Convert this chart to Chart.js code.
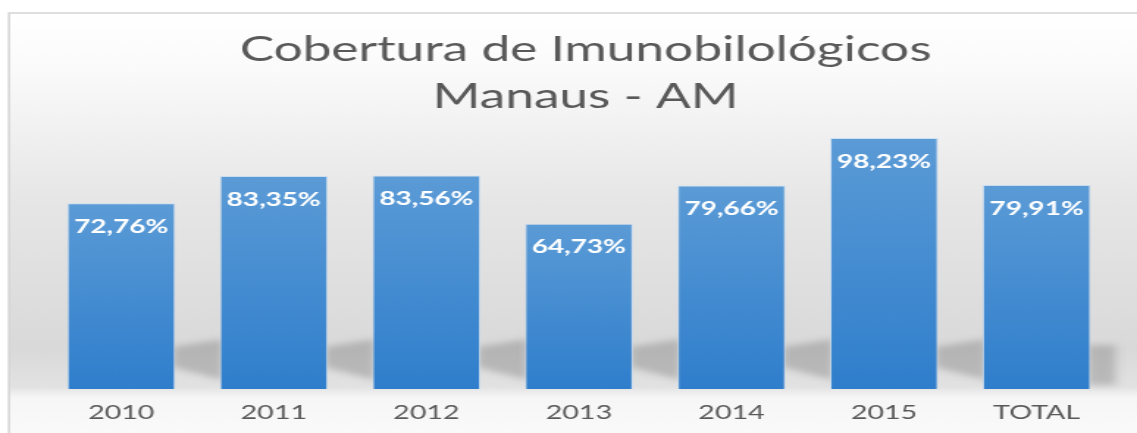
<!DOCTYPE html>
<html>
<head>
<meta charset="utf-8">
<script src="https://cdn.jsdelivr.net/npm/chart.js@4"></script>
<style>
  html, body { margin: 0; padding: 0; background: #fff; overflow: hidden; }
  /* the reference is stretched sideways, so draw narrow and stretch */
  #wrap { position: absolute; left: 0; top: 0; width: 774px; height: 433px;
          transform: scaleX(1.46899); transform-origin: 0 0; }
</style>
</head>
<body>
<div id="wrap"><canvas id="chart"></canvas></div>
<script>
const titleLines = ["Cobertura de Imunobilológicos", "Manaus - AM"];
const categories = ["2010", "2011", "2012", "2013", "2014", "2015", "TOTAL"];
const coverage = [72.76, 83.35, 83.56, 64.73, 79.66, 98.23, 79.91];
const valueLabels = ["72,76%", "83,35%", "83,56%", "64,73%", "79,66%", "98,23%", "79,91%"];

const grey = "#595959";

// panel background with frame
const backdrop = {
  id: "backdrop",
  beforeDraw(chart) {
    const { ctx, width, height } = chart;
    const x0 = 6.1, y0 = 13;
    const g = ctx.createLinearGradient(0, y0, 0, height);
    g.addColorStop(0, "#ffffff");
    g.addColorStop(0.12, "#fbfbfb");
    g.addColorStop(0.45, "#e6e6e6");
    g.addColorStop(0.8, "#d9d9d9");
    g.addColorStop(0.89, "#e2e2e2");
    g.addColorStop(0.915, "#f6f6f6");
    g.addColorStop(1, "#fafafa");
    ctx.save();
    ctx.fillStyle = "#fff";
    ctx.fillRect(0, 0, width, height);
    ctx.fillStyle = g;
    ctx.fillRect(x0, y0, width - x0, height - y0);
    ctx.strokeStyle = "#d4d4d4";
    ctx.lineWidth = 1.5;
    ctx.beginPath();
    ctx.moveTo(x0, height);
    ctx.lineTo(x0, y0);
    ctx.lineTo(width, y0);
    ctx.stroke();
    ctx.restore();
  }
};

// soft floor shadows between the bars
const floorShadow = {
  id: "floorShadow",
  beforeDatasetsDraw(chart) {
    const { ctx } = chart;
    const bars = chart.getDatasetMeta(0).data;
    const base = chart.scales.y.getPixelForValue(0);
    ctx.save();
    ctx.filter = "blur(3px)";
    ctx.fillStyle = "rgba(120,120,120,0.38)";
    bars.forEach((b, i) => {
      const xl = b.x + b.width / 2;
      ctx.beginPath();
      if (i < bars.length - 1) {
        const n = bars[i + 1];
        const xr = n.x - n.width / 2 + 2;
        ctx.moveTo(xl - 2, base - 42);
        ctx.lineTo(xr, base - 50);
        ctx.lineTo(xr, base - 9);
        ctx.lineTo(xl - 2, base - 22);
      } else {
        ctx.moveTo(xl - 2, base - 44);
        ctx.lineTo(xl + 17, base - 44);
        ctx.lineTo(xl + 17, base - 4);
        ctx.lineTo(xl - 2, base - 4);
      }
      ctx.closePath();
      ctx.fill();
    });
    ctx.restore();
  }
};

// white percentage labels inside the bar tops
const barLabels = {
  id: "barLabels",
  afterDatasetsDraw(chart) {
    const { ctx } = chart;
    ctx.save();
    ctx.font = "bold 19px Lato";
    ctx.fillStyle = "#ffffff";
    ctx.textAlign = "center";
    ctx.textBaseline = "middle";
    chart.getDatasetMeta(0).data.forEach((b, i) => {
      ctx.fillText(valueLabels[i], b.x, b.y + 23.5);
    });
    ctx.restore();
  }
};

function barFill(context) {
  const chart = context.chart;
  const y = chart.scales.y;
  if (!y || !chart.chartArea) return "#4a8fd4";
  const top = y.getPixelForValue(coverage[context.dataIndex]);
  const bottom = y.getPixelForValue(0);
  const g = chart.ctx.createLinearGradient(0, top, 0, bottom);
  g.addColorStop(0, "#5b9bd6");
  g.addColorStop(1, "#2f7ecc");
  return g;
}

new Chart(document.getElementById("chart"), {
  type: "bar",
  data: {
    labels: categories,
    datasets: [{
      data: coverage,
      backgroundColor: barFill,
      borderColor: "rgba(190,215,242,0.7)",
      borderWidth: 1,
      barPercentage: 0.708,
      categoryPercentage: 1
    }]
  },
  options: {
    responsive: true,
    maintainAspectRatio: false,
    animation: false,
    layout: { padding: { left: 30.6, right: 7.4, top: 0, bottom: -3.4 } },
    plugins: {
      legend: { display: false },
      tooltip: { enabled: false },
      title: {
        display: true,
        text: titleLines,
        color: grey,
        font: { family: "Lato", size: 35, weight: "normal", lineHeight: 1.33 },
        padding: { top: 26.75, bottom: 13.75 }
      }
    },
    scales: {
      x: {
        grid: { display: false, drawTicks: false },
        border: { display: false },
        ticks: { color: grey, font: { family: "Lato", size: 19.5 }, padding: 12 }
      },
      y: {
        position: "right",
        min: 0,
        max: 100,
        ticks: { display: false },
        grid: { display: false },
        border: { display: false },
        afterFit(scale) { scale.width = 9; }
      }
    }
  },
  plugins: [backdrop, floorShadow, barLabels]
});
</script>
</body>
</html>
